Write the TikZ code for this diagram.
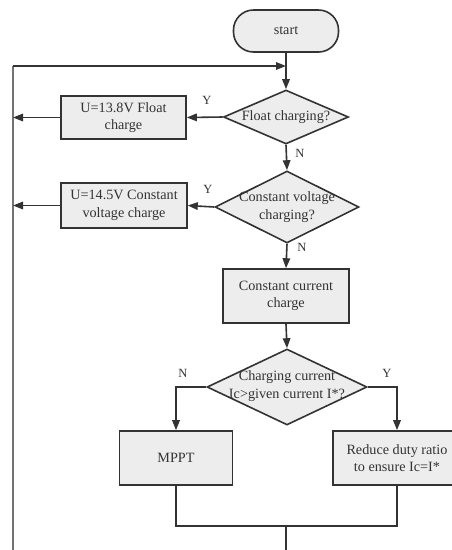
\documentclass[tikz,border=0pt]{standalone}
\usepackage{fontspec}
\setmainfont{Liberation Serif}
\usetikzlibrary{arrows.meta,shapes.geometric}
\begin{document}
\begin{tikzpicture}[x=1pt,y=-1pt,
  line/.style={draw=black!80, line width=1.6pt},
  arr/.style={line, -{Triangle[length=10pt,width=7.5pt]}},
  box/.style={draw=black!80, line width=1.6pt, fill=black!7, inner sep=0pt, align=center,
    font=\fontsize{14.2}{17.5}\selectfont, text=black!80},
  dia/.style={diamond, draw=black!80, line width=1.6pt, fill=black!7, inner sep=0pt},
  txt/.style={align=center, font=\fontsize{14.2}{17.5}\selectfont, text=black!80, inner sep=0pt},
  lab/.style={font=\fontsize{12.5}{14}\selectfont, text=black!80, inner sep=0pt}]
\useasboundingbox (0,0) rectangle (452,550);
\clip (0,0) rectangle (452,550);

\node[box, rounded corners=20pt, minimum width=105pt, minimum height=42pt] (start) at (286,31) {start};

\node[dia, minimum width=125pt, minimum height=54pt] (d1) at (286,117) {};
\node[txt] (t1) at (d1) {Float charging?};
\node[box, minimum width=125pt, minimum height=43pt] (b1) at (123.5,117.5) {U=13.8V Float\\charge};

\node[dia, minimum width=144pt, minimum height=72pt] (d2) at (287,207) {};
\node[txt] (t2) at (d2) {Constant voltage\\charging?};
\node[box, minimum width=126pt, minimum height=45pt] (b2) at (124,205.5) {U=14.5V Constant\\voltage charge};

\node[box, minimum width=126pt, minimum height=54pt] (b3) at (286,296) {Constant current\\charge};

\node[dia, minimum width=160pt, minimum height=76pt] (d3) at (287,387) {};
\node[txt] (t3) at (287,386) {Charging current\\Ic>given current I*?};

\node[box, minimum width=113pt, minimum height=54pt] (mppt) at (176,458) {MPPT};
\node[box, minimum width=128pt, minimum height=54pt] (red) at (397,458) {Reduce duty ratio\\to ensure Ic=I*};

\coordinate (top) at (286,66);
\coordinate (lt) at (13,66);
\coordinate (lb) at (13,552);
\coordinate (j) at (286,526);
\coordinate (jb) at (286,552);

% loop back line
\draw[draw=black!55, line width=2.8pt] (lb) -- (lt);
\draw[arr] (lt) -- (top);
\draw[arr] (start) -- (d1.north);

\draw[arr] (d1.west) -- (b1.east);
\draw[arr] (b1.west) -- (b1.west -| lt);
\draw[arr] (d1.south) -- (d2.north);
\draw[arr] (d2.west) -- (b2.east);
\draw[arr] (b2.west) -- (b2.west -| lt);
\draw[arr] (d2.south) -- (b3.north);
\draw[arr] (b3.south) -- (d3.north);
\draw[arr] (d3.west) -| (mppt.north);
\draw[arr] (d3.east) -| (red.north);
\draw[line] (mppt.south) |- (j) -| (red.south);
\draw[line] (j) -- (jb);

\node[lab] (y1) at (207,100) {Y};
\node[lab] (n1) at (300,153) {N};
\node[lab] (y2) at (208,189) {Y};
\node[lab] (n2) at (302,247) {N};
\node[lab] (n3) at (183,373) {N};
\node[lab] (y3) at (387,373) {Y};
\end{tikzpicture}
\end{document}
